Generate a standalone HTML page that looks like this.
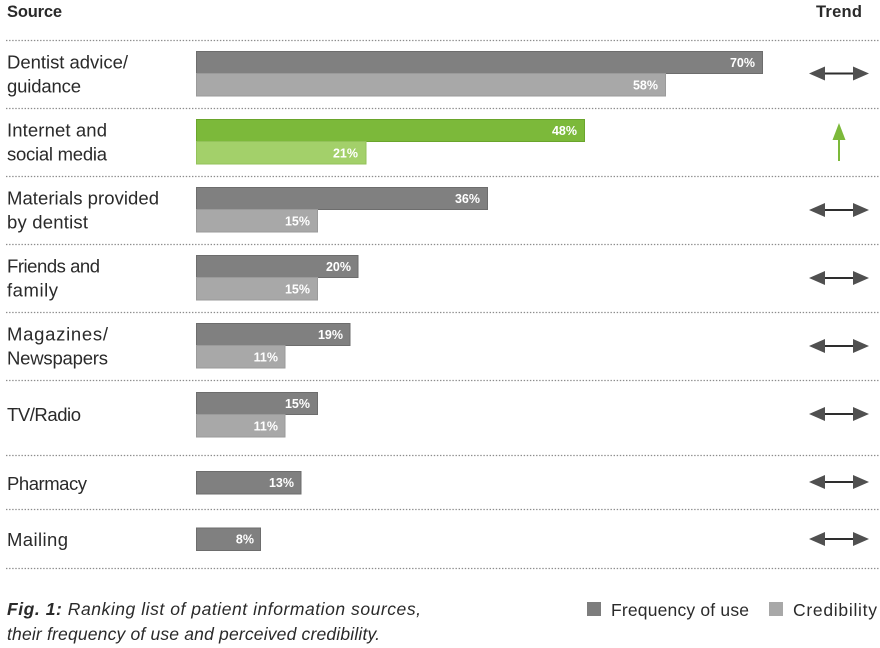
<!DOCTYPE html>
<html><head><meta charset="utf-8"><style>
html,body{margin:0;padding:0;background:#fff;}
svg{display:block;}
.lab{font-family:"Liberation Sans",sans-serif;font-size:18.5px;fill:#2a2a2a;}
.hd{font-family:"Liberation Sans",sans-serif;font-size:16.5px;font-weight:bold;fill:#2a2a2a;}
.bl{font-family:"Liberation Sans",sans-serif;font-size:12.5px;font-weight:bold;fill:#fff;text-anchor:end;}
.ft{font-family:"Liberation Sans",sans-serif;font-size:17.5px;font-style:italic;fill:#2a2a2a;}
.lg{font-family:"Liberation Sans",sans-serif;font-size:17.5px;fill:#2a2a2a;}
.dk{fill:#808080;stroke:#6d6d6d;stroke-width:1;}
.lt{fill:#a8a8a8;stroke:#9a9a9a;stroke-width:1;}
.gd{fill:#7cb93a;stroke:#6aa52c;stroke-width:1;}
.gl{fill:#a3d06a;stroke:#93c25a;stroke-width:1;}
.dot{stroke:#8c8c8c;stroke-width:1.3;stroke-dasharray:1.4 1.7;}
</style></head><body>
<svg width="880" height="648" viewBox="0 0 880 648" xmlns="http://www.w3.org/2000/svg">
<text class="hd" x="7" y="17" textLength="55" lengthAdjust="spacing">Source</text>
<text class="hd" x="816" y="17" textLength="46" lengthAdjust="spacing">Trend</text>

<g class="dot">
<line x1="6" y1="40.5" x2="880" y2="40.5"/>
<line x1="6" y1="108.5" x2="880" y2="108.5"/>
<line x1="6" y1="176.5" x2="880" y2="176.5"/>
<line x1="6" y1="244.5" x2="880" y2="244.5"/>
<line x1="6" y1="312.5" x2="880" y2="312.5"/>
<line x1="6" y1="380.5" x2="880" y2="380.5"/>
<line x1="6" y1="455.5" x2="880" y2="455.5"/>
<line x1="6" y1="509.5" x2="880" y2="509.5"/>
<line x1="6" y1="568.5" x2="880" y2="568.5"/>
</g>

<text class="lab" x="7" y="68.5" textLength="121" lengthAdjust="spacing">Dentist advice/</text>
<text class="lab" x="7" y="92.5" textLength="74" lengthAdjust="spacing">guidance</text>
<text class="lab" x="7" y="136.5" textLength="100" lengthAdjust="spacing">Internet and</text>
<text class="lab" x="7" y="160.5" textLength="100" lengthAdjust="spacing">social media</text>
<text class="lab" x="7" y="204.5" textLength="152" lengthAdjust="spacing">Materials provided</text>
<text class="lab" x="7" y="228.5" textLength="81" lengthAdjust="spacing">by dentist</text>
<text class="lab" x="7" y="272.5" textLength="93" lengthAdjust="spacing">Friends and</text>
<text class="lab" x="7" y="296.5" textLength="51" lengthAdjust="spacing">family</text>
<text class="lab" x="7" y="340.5" textLength="101" lengthAdjust="spacing">Magazines/</text>
<text class="lab" x="7" y="364.5" textLength="101" lengthAdjust="spacing">Newspapers</text>
<text class="lab" x="7" y="421" textLength="74" lengthAdjust="spacing">TV/Radio</text>
<text class="lab" x="7" y="490" textLength="80" lengthAdjust="spacing">Pharmacy</text>
<text class="lab" x="7" y="546" textLength="61" lengthAdjust="spacing">Mailing</text>

<rect class="dk" x="196.5" y="51.5" width="566" height="22"/>
<rect class="lt" x="196.5" y="73.5" width="469" height="22.5"/>
<text class="bl" x="755" y="67">70%</text>
<text class="bl" x="658" y="89.5">58%</text>

<rect class="gd" x="196.5" y="119.5" width="388" height="22"/>
<rect class="gl" x="196.5" y="141.5" width="169.5" height="22.5"/>
<text class="bl" x="577" y="135">48%</text>
<text class="bl" x="358" y="157.5">21%</text>

<rect class="dk" x="196.5" y="187.5" width="291" height="22"/>
<rect class="lt" x="196.5" y="209.5" width="121" height="22.5"/>
<text class="bl" x="480" y="203">36%</text>
<text class="bl" x="310" y="225.5">15%</text>

<rect class="dk" x="196.5" y="255.5" width="161.5" height="22"/>
<rect class="lt" x="196.5" y="277.5" width="121" height="22.5"/>
<text class="bl" x="351" y="271">20%</text>
<text class="bl" x="310" y="293.5">15%</text>

<rect class="dk" x="196.5" y="323.5" width="153.5" height="22"/>
<rect class="lt" x="196.5" y="345.5" width="88.5" height="22.5"/>
<text class="bl" x="343" y="339">19%</text>
<text class="bl" x="278" y="361.5">11%</text>

<rect class="dk" x="196.5" y="392.5" width="121" height="22"/>
<rect class="lt" x="196.5" y="414.5" width="88.5" height="22.5"/>
<text class="bl" x="310" y="408">15%</text>
<text class="bl" x="278" y="430.5">11%</text>

<rect class="dk" x="196.5" y="471.5" width="104.5" height="22.5"/>
<text class="bl" x="294" y="487">13%</text>

<rect class="dk" x="196.5" y="528" width="64" height="22.5"/>
<text class="bl" x="254" y="543.5">8%</text>

<defs>
<g id="dbl">
<line x1="820" y1="0" x2="858" y2="0" stroke="#2e2e2e" stroke-width="2"/>
<polygon points="809,0 825,-7 825,7" fill="#505050"/>
<polygon points="869,0 853,-7 853,7" fill="#505050"/>
</g>
</defs>
<use href="#dbl" transform="translate(0,73.5)"/>
<use href="#dbl" transform="translate(0,210)"/>
<use href="#dbl" transform="translate(0,278)"/>
<use href="#dbl" transform="translate(0,346)"/>
<use href="#dbl" transform="translate(0,414)"/>
<use href="#dbl" transform="translate(0,482)"/>
<use href="#dbl" transform="translate(0,539)"/>

<line x1="839" y1="136" x2="839" y2="161" stroke="#7cb93a" stroke-width="2"/>
<polygon points="839,123 845.5,140 832.5,140" fill="#7cb93a"/>

<text class="ft" x="7" y="615" textLength="414" lengthAdjust="spacing"><tspan font-weight="bold">Fig. 1:</tspan> Ranking list of patient information sources,</text>
<text class="ft" x="7" y="640" textLength="373" lengthAdjust="spacing">their frequency of use and perceived credibility.</text>

<rect x="587" y="602" width="14" height="14" fill="#7d7d7d"/>
<text class="lg" x="611" y="616" textLength="138" lengthAdjust="spacing">Frequency of use</text>
<rect x="769" y="602" width="14" height="14" fill="#a8a8a8"/>
<text class="lg" x="793" y="616" textLength="84" lengthAdjust="spacing">Credibility</text>
</svg>
</body></html>
